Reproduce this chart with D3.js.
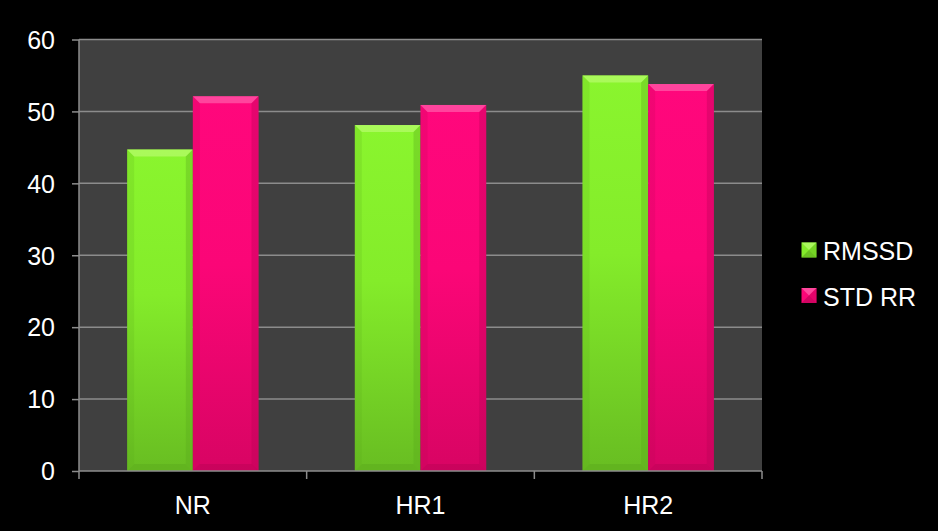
<!DOCTYPE html>
<html>
<head>
<meta charset="utf-8">
<script src="https://cdn.jsdelivr.net/npm/d3@7/dist/d3.min.js"></script>
<style>
  html, body { margin: 0; padding: 0; background: #000; }
  svg { display: block; }
</style>
</head>
<body>
<script>
// Heart-rate variability measures per condition
const categories = ["NR", "HR1", "HR2"];
const seriesNames = ["RMSSD", "STD RR"];
const rmssd = [44.7, 48.1, 55.0];
const stdRR = [52.1, 50.9, 53.8];
const yTicks = [0, 10, 20, 30, 40, 50, 60];

const seriesValues = [rmssd, stdRR];
const palette = [
  { top: "#8af52e", mid: "#84ec2a", bottom: "#68bd22", light: "#b4fb6a", dark: "#5aa81c" },
  { top: "#ff077c", mid: "#fb0677", bottom: "#d80463", light: "#ff5aa8", dark: "#b80355" }
];

const W = 938, H = 531;
const margin = { left: 79, right: 176, top: 39.5, bottom: 60 };
const plotW = W - margin.left - margin.right;
const plotH = H - margin.top - margin.bottom;

const svg = d3.select("body").append("svg")
  .attr("width", W).attr("height", H)
  .style("font-family", "Arial, 'Liberation Sans', sans-serif");

svg.append("rect").attr("width", W).attr("height", H).attr("fill", "#000");

const defs = svg.append("defs");
palette.forEach((p, i) => {
  const g = defs.append("linearGradient").attr("id", "grad" + i)
    .attr("x1", 0).attr("y1", 0).attr("x2", 0).attr("y2", 1);
  g.append("stop").attr("offset", "0%").attr("stop-color", p.top);
  g.append("stop").attr("offset", "45%").attr("stop-color", p.mid);
  g.append("stop").attr("offset", "100%").attr("stop-color", p.bottom);
});

const g = svg.append("g").attr("transform", `translate(${margin.left},${margin.top})`);

const x0 = d3.scaleBand().domain(categories).range([0, plotW]).paddingInner(0).paddingOuter(0);
const x1 = d3.scaleBand().domain(seriesNames).range([0, x0.bandwidth()]).paddingInner(0).paddingOuter(0.733);
const y = d3.scaleLinear().domain([0, 60]).range([plotH, 0]);

// Plot background
g.append("rect").attr("width", plotW).attr("height", plotH).attr("fill", "#404040");

// Gridlines
g.append("g").selectAll("line").data(yTicks.filter(t => t > 0)).join("line")
  .attr("x1", 0).attr("x2", plotW)
  .attr("y1", d => y(d)).attr("y2", d => y(d))
  .attr("stroke", "#8c8c8c").attr("stroke-width", 1.5);

// Bars with bevelled edges
const bev = 7;
categories.forEach((c, ci) => {
  seriesNames.forEach((s, si) => {
    const v = seriesValues[si][ci];
    const bx = x0(c) + x1(s);
    const bw = x1.bandwidth();
    const by = y(v);
    const bh = y(0) - by;
    const p = palette[si];
    const bar = g.append("g");
    bar.append("rect").attr("x", bx).attr("y", by).attr("width", bw).attr("height", bh)
      .attr("fill", `url(#grad${si})`);
    // top bevel
    bar.append("path")
      .attr("d", `M${bx},${by}L${bx + bw},${by}L${bx + bw - bev},${by + bev}L${bx + bev},${by + bev}Z`)
      .attr("fill", p.light).attr("opacity", 0.75);
    // left bevel
    bar.append("path")
      .attr("d", `M${bx},${by}L${bx + bev},${by + bev}L${bx + bev},${by + bh - bev}L${bx},${by + bh}Z`)
      .attr("fill", p.dark).attr("opacity", 0.18);
    // right bevel
    bar.append("path")
      .attr("d", `M${bx + bw},${by}L${bx + bw - bev},${by + bev}L${bx + bw - bev},${by + bh - bev}L${bx + bw},${by + bh}Z`)
      .attr("fill", p.dark).attr("opacity", 0.35);
    // bottom bevel
    bar.append("path")
      .attr("d", `M${bx},${by + bh}L${bx + bw},${by + bh}L${bx + bw - bev},${by + bh - bev}L${bx + bev},${by + bh - bev}Z`)
      .attr("fill", p.dark).attr("opacity", 0.45);
  });
});

// Y axis
const yAxis = g.append("g").call(d3.axisLeft(y).tickValues(yTicks).tickSize(7).tickPadding(17));
yAxis.select(".domain").attr("stroke", "#8c8c8c").attr("stroke-width", 1.5)
  .attr("d", `M0,0V${plotH}`);
yAxis.selectAll(".tick line").attr("stroke", "#8c8c8c").attr("stroke-width", 1.5);
yAxis.selectAll(".tick text").attr("fill", "#fff").style("font-size", "25px")
  .attr("dy", "0.35em");

// X axis: ticks at category boundaries
const xAxisG = g.append("g").attr("transform", `translate(0,${plotH})`);
xAxisG.append("line").attr("x1", 0).attr("x2", plotW).attr("y1", 0).attr("y2", 0)
  .attr("stroke", "#8c8c8c").attr("stroke-width", 1.5);
const bounds = categories.map(c => x0(c)).concat([plotW]);
xAxisG.selectAll("line.bt").data(bounds).join("line").attr("class", "bt")
  .attr("x1", d => d).attr("x2", d => d).attr("y1", 0).attr("y2", 8)
  .attr("stroke", "#8c8c8c").attr("stroke-width", 1.5);
xAxisG.selectAll("text").data(categories).join("text")
  .attr("x", d => x0(d) + x0.bandwidth() / 2).attr("y", 42.5)
  .attr("text-anchor", "middle").attr("fill", "#fff").style("font-size", "25px")
  .text(d => d);

// Legend
const legend = svg.append("g").attr("transform", "translate(801.5,242.5)");
seriesNames.forEach((s, i) => {
  const p = palette[i];
  const ly = i * 45.5;
  const sz = 15, h = sz / 2;
  const lg = legend.append("g").attr("transform", `translate(0,${ly})`);
  lg.append("rect").attr("width", sz).attr("height", sz).attr("fill", p.mid);
  lg.append("path").attr("d", `M0,0L${sz},0L${h},${h}Z`).attr("fill", p.light).attr("opacity", 0.8);
  lg.append("path").attr("d", `M0,${sz}L${sz},${sz}L${h},${h}Z`).attr("fill", p.dark).attr("opacity", 0.6);
  lg.append("path").attr("d", `M${sz},0L${sz},${sz}L${h},${h}Z`).attr("fill", p.dark).attr("opacity", 0.35);
  lg.append("text").attr("x", 21.5).attr("y", 17.5).attr("fill", "#fff")
    .style("font-size", "25px").text(s);
});
</script>
</body>
</html>
